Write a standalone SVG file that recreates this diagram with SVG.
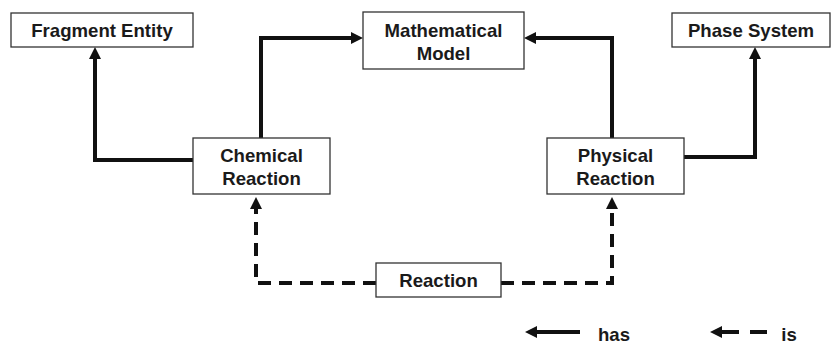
<svg xmlns="http://www.w3.org/2000/svg" width="832" height="345" viewBox="0 0 832 345">
  <defs>
    <marker id="head" markerUnits="userSpaceOnUse" markerWidth="12" markerHeight="12" refX="2" refY="6" orient="auto">
      <path d="M0,0 L12,6 L0,12 z" fill="#111"/>
    </marker>
    <style>
      .box { fill: #fff; stroke: #333; stroke-width: 1.3; }
      .lbl { font-family: "Liberation Sans", Arial, sans-serif; font-weight: bold; font-size: 18.6px; fill: #1a1a1a; text-anchor: middle; }
      .line { fill: none; stroke: #111; stroke-width: 4; }
      .has { fill: none; stroke: #111; stroke-width: 4; marker-end: url(#head); }
      .is { fill: none; stroke: #111; stroke-width: 4; stroke-dasharray: 13 8; marker-end: url(#head); }
    </style>
  </defs>
  <rect width="832" height="345" fill="#fff"/>

  <g id="connectors">
    <path class="has" d="M193,160 H95 V57"/>
    <path class="has" d="M261,138 V38 H353"/>
    <path class="has" d="M612,138 V38 H534"/>
    <path class="has" d="M684,157 H755 V57"/>
    <path class="is" d="M376,283 H256 V207"/>
    <path class="is" d="M501,283 H612 V207"/>
  </g>

  <g id="fragment-entity">
    <rect class="box" x="11" y="13" width="182" height="34"/>
    <text class="lbl" x="102" y="37">Fragment Entity</text>
  </g>
  <g id="mathematical-model">
    <rect class="box" x="363" y="12" width="161" height="57"/>
    <text class="lbl" x="443.5" y="37">Mathematical</text>
    <text class="lbl" x="443.5" y="60">Model</text>
  </g>
  <g id="phase-system">
    <rect class="box" x="672" y="13" width="158" height="34"/>
    <text class="lbl" x="751" y="37">Phase System</text>
  </g>
  <g id="chemical-reaction">
    <rect class="box" x="193" y="138" width="137" height="56"/>
    <text class="lbl" x="261.5" y="162">Chemical</text>
    <text class="lbl" x="261.5" y="185">Reaction</text>
  </g>
  <g id="physical-reaction">
    <rect class="box" x="547" y="138" width="137" height="56"/>
    <text class="lbl" x="615.5" y="162">Physical</text>
    <text class="lbl" x="615.5" y="185">Reaction</text>
  </g>
  <g id="reaction">
    <rect class="box" x="376" y="263" width="125" height="34"/>
    <text class="lbl" x="438.5" y="287">Reaction</text>
  </g>

  <g id="legend">
    <path class="has" d="M580,332 H535"/>
    <text class="lbl" x="614" y="341">has</text>
    <path class="line" d="M767,332 H750"/>
    <path class="has" d="M739,332 H720"/>
    <text class="lbl" x="789" y="341">is</text>
  </g>
</svg>
